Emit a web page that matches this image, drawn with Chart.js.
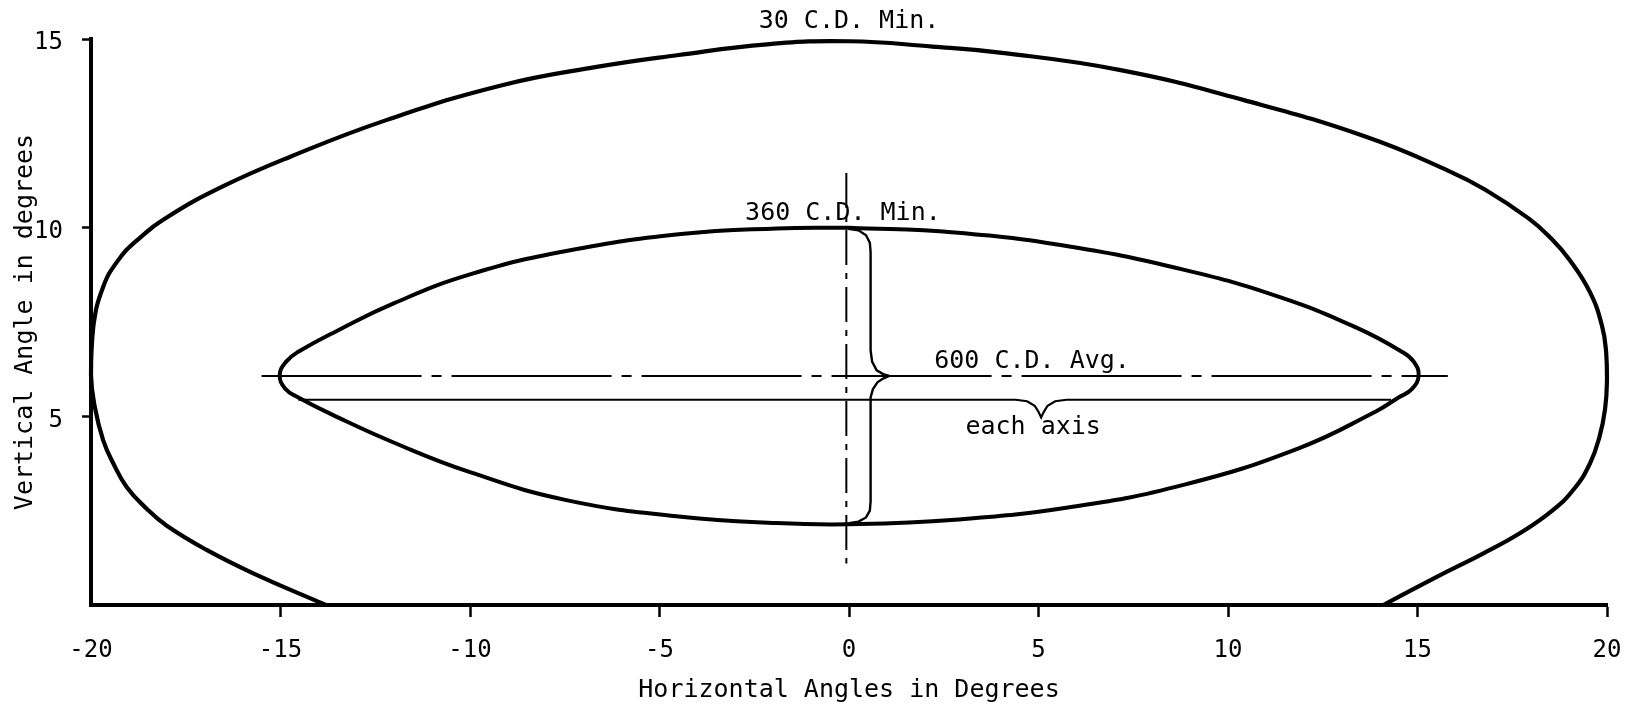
<!DOCTYPE html>
<html>
<head>
<meta charset="utf-8">
<script src="https://cdn.jsdelivr.net/npm/chart.js@4"></script>
<style>
  body { margin: 0; background: #fff; }
  #wrap { width: 1638px; height: 708px; position: relative; }
</style>
</head>
<body>
<div id="wrap"><canvas id="beam_chart"></canvas></div>
<script>
// 30 C.D. Min. contour (open curve, ends on the x axis)
const outerX = [-13.8, -15.72, -16.95, -18.0, -18.53, -19.06, -19.41, -19.68, -19.9, -20.0, -19.94, -19.68, -19.28, -18.78, -17.97, -16.55, -14.74, -12.21, -9.18, -6.66, -4.54, -2.16, 0.0, 2.2, 3.98, 7.2, 10.42, 13.64, 15.79, 16.8, 17.94, 18.5, 19.01, 19.55, 19.87, 19.98, 20.0, 19.95, 19.8, 19.55, 19.15, 18.58, 17.7, 16.74, 15.42, 14.1];
const outerY = [0, 0.84, 1.46, 2.1, 2.55, 3.13, 3.75, 4.37, 5.25, 6.1, 7.37, 8.43, 9.14, 9.67, 10.29, 11.08, 11.88, 12.85, 13.77, 14.26, 14.57, 14.86, 14.94, 14.8, 14.64, 14.17, 13.38, 12.41, 11.52, 11.0, 10.24, 9.74, 9.15, 8.29, 7.39, 6.67, 6.0, 5.2, 4.45, 3.75, 3.1, 2.52, 1.9, 1.37, 0.70, 0];

// 360 C.D. Min. contour (closed loop, starts and ends at the top)
const innerX = [0, 2.79, 5.82, 8.85, 11.37, 13.39, 14.61, 14.9, 15.03, 14.85, 14.5, 13.9, 11.88, 8.85, 5.82, 2.79, 0, -1.91, -4.43, -7.46, -10.0, -12.0, -13.5, -14.53, -14.88, -15.02, -14.85, -14.53, -13.5, -12.0, -10.0, -7.46, -4.43, -1.91, 0];
const innerY = [10.0, 9.87, 9.5, 8.88, 8.16, 7.35, 6.7, 6.45, 6.08, 5.72, 5.5, 5.13, 4.16, 3.19, 2.59, 2.26, 2.14, 2.17, 2.34, 2.78, 3.52, 4.3, 4.98, 5.5, 5.74, 6.1, 6.45, 6.71, 7.27, 8.0, 8.76, 9.38, 9.83, 9.98, 10.0];

// reference lines
const avgLineX = [-15.5, 15.8];
const avgLineY = [6.07, 6.07];
const vertLineX = [-0.07, -0.07];
const vertLineY = [11.45, 1.1];
const baseLineX = [-14.53, 4.4, 4.7, 4.9, 5.0, 5.07, 5.14, 5.24, 5.44, 5.74, 14.3];
const baseLineY = [5.44, 5.44, 5.40, 5.28, 5.12, 4.97, 5.12, 5.28, 5.40, 5.44, 5.44];

// vertical brace, two halves meeting at the tip
const braceUpX = [-0.02, 0.25, 0.45, 0.55, 0.57, 0.57, 0.61, 0.73, 0.9, 1.06];
const braceUpY = [9.97, 9.93, 9.8, 9.6, 9.35, 6.75, 6.45, 6.22, 6.12, 6.07];
const braceDnX = [1.06, 0.9, 0.75, 0.63, 0.57, 0.57, 0.55, 0.45, 0.25, 0.0];
const braceDnY = [6.07, 6.0, 5.9, 5.72, 5.5, 2.75, 2.5, 2.32, 2.21, 2.17];

// text on the plot
const labelTexts = ['30 C.D. Min.', '360 C.D. Min.', '600 C.D. Avg.', 'each axis'];
const labelX = [0.0, -0.16, 4.83, 4.86];
const labelY = [15.29, 10.2, 6.28, 4.53];

const xTicks = [-20, -15, -10, -5, 0, 5, 10, 15, 20];
const yTicks = [5, 10, 15];

const FONT = "'DejaVu Sans Mono', monospace";

function pts(xs, ys) {
    return xs.map((x, i) => ({ x: x, y: ys[i] }));
}

function line(xs, ys, width, tension, dash) {
    return {
        data: pts(xs, ys),
        showLine: true,
        borderColor: '#000',
        borderWidth: width,
        borderDash: dash || [],
        tension: tension,
        pointRadius: 0,
        clip: false,
        fill: false
    };
}

const labelPlugin = {
    id: 'curveLabels',
    afterDatasetsDraw(chart) {
        const { ctx, scales: { x, y } } = chart;
        ctx.save();
        ctx.font = '25px ' + FONT;
        ctx.fillStyle = '#000';
        ctx.textAlign = 'center';
        ctx.textBaseline = 'alphabetic';
        labelTexts.forEach((t, i) => {
            ctx.fillText(t, x.getPixelForValue(labelX[i]), y.getPixelForValue(labelY[i]));
        });
        ctx.restore();
    }
};

// keep the tick label padding from eating into the plot area
function noPad(s) {
    s.paddingLeft = 0;
    s.paddingRight = 0;
    s.paddingTop = 0;
    s.paddingBottom = 0;
}

const ctx = document.getElementById('beam_chart');

let chart = new Chart(ctx, {
    type: 'scatter',
    data: {
        datasets: [
            line(outerX, outerY, 4.2, 0.45),
            line(innerX, innerY, 4, 0.45),
            line(avgLineX, avgLineY, 2, 0, [160, 10, 10, 10]),
            line(baseLineX, baseLineY, 2.2, 0),
            line(vertLineX, vertLineY, 2, 0, [35, 8, 6, 8]),
            line(braceUpX, braceUpY, 2.4, 0),
            line(braceDnX, braceDnY, 2.4, 0)
        ]
    },
    options: {
        responsive: true,
        maintainAspectRatio: false,
        animation: false,
        layout: { padding: { top: 39, right: 31, left: 0, bottom: 0 } },
        plugins: {
            legend: { display: false },
            tooltip: { enabled: false }
        },
        scales: {
            x: {
                type: 'linear',
                min: -20,
                max: 20,
                afterBuildTicks: s => { s.ticks = xTicks.map(v => ({ value: v })); },
                afterFit: s => { s.height = 103; noPad(s); },
                border: { display: true, color: '#000', width: 4 },
                grid: {
                    drawOnChartArea: false,
                    drawTicks: true,
                    tickLength: 12,
                    tickWidth: 2.5,
                    tickColor: c => (c.tick && c.tick.value === -20) ? 'rgba(0,0,0,0)' : '#000'
                },
                ticks: {
                    color: '#000',
                    font: { family: FONT, size: 24 },
                    padding: 19,
                    maxRotation: 0
                },
                title: {
                    display: true,
                    text: 'Horizontal Angles in Degrees',
                    color: '#000',
                    font: { family: FONT, size: 25 },
                    padding: { top: 0, bottom: 3 }
                }
            },
            y: {
                type: 'linear',
                min: 0,
                max: 15,
                afterBuildTicks: s => { s.ticks = yTicks.map(v => ({ value: v })); },
                afterFit: s => { s.width = 91; noPad(s); },
                border: { display: true, color: '#000', width: 4 },
                grid: {
                    drawOnChartArea: false,
                    drawTicks: true,
                    tickLength: 9,
                    tickWidth: 2.5,
                    tickColor: '#000'
                },
                ticks: {
                    color: '#000',
                    font: { family: FONT, size: 24 },
                    padding: 19,
                    labelOffset: 4
                },
                title: {
                    display: true,
                    text: 'Vertical Angle in degrees',
                    color: '#000',
                    font: { family: FONT, size: 25 },
                    padding: { top: 10, bottom: 0 }
                }
            }
        }
    },
    plugins: [labelPlugin]
});
</script>
</body>
</html>
